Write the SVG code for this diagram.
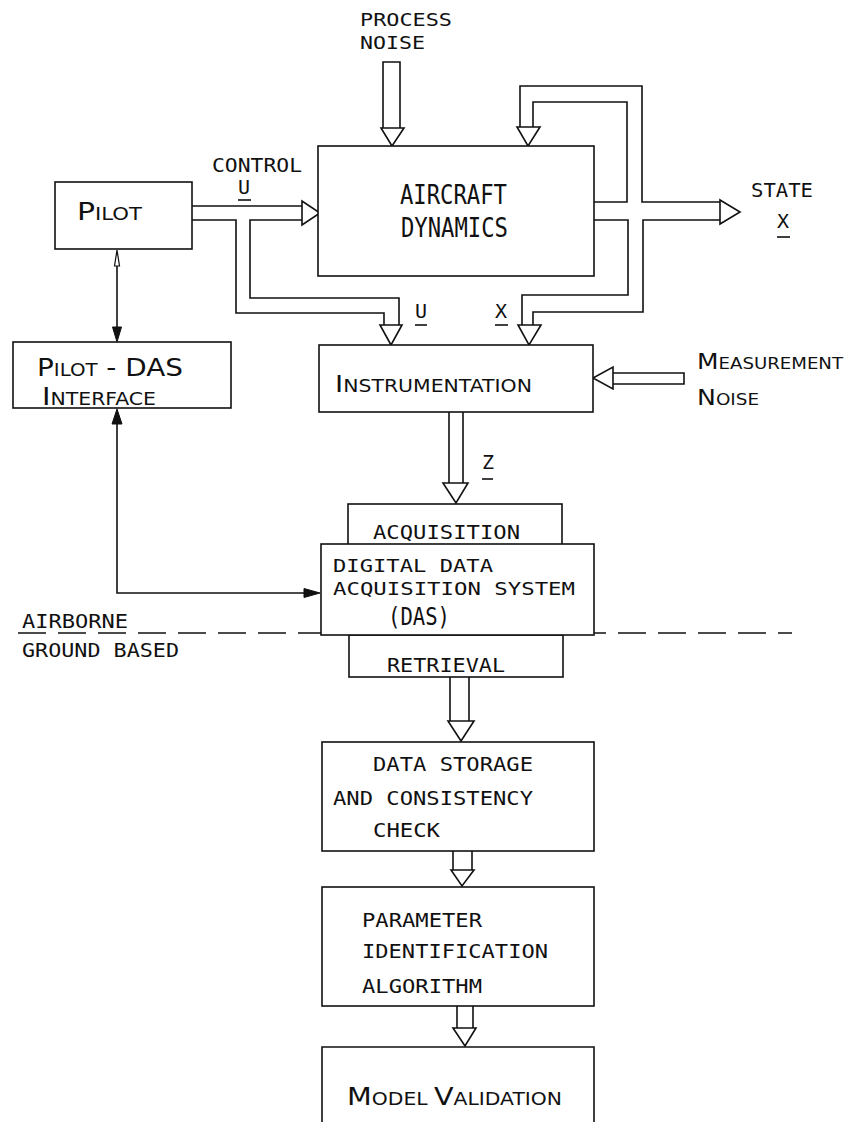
<svg xmlns="http://www.w3.org/2000/svg" width="844" height="1122" viewBox="0 0 844 1122">
<style>
.ln{fill:none;stroke:#111;stroke-width:1.6;stroke-linejoin:miter}
.box{fill:#fff;stroke:#111;stroke-width:1.6}
.hd{fill:#fff;stroke:#111;stroke-width:1.6;stroke-linejoin:miter}
.fh{fill:#111;stroke:#111;stroke-width:1}
.t{font-family:"DejaVu Sans Mono","Liberation Mono",monospace;font-size:20px;fill:#111}
.ts{font-family:"DejaVu Sans Mono","Liberation Mono",monospace;font-size:18px;fill:#111}
.big{font-family:"DejaVu Sans Mono",monospace;font-size:26px;fill:#111}
.sc{font-family:"DejaVu Sans","Liberation Sans",sans-serif;fill:#111}
.dash{fill:none;stroke:#111;stroke-width:1.6;stroke-dasharray:28 12}
</style>
<rect width="844" height="1122" fill="#fff"/>

<g id="divider">
<line class="dash" x1="18" y1="633" x2="792" y2="633"/>
<text class="t" x="22" y="628" textLength="106" lengthAdjust="spacingAndGlyphs">AIRBORNE</text>
<text class="t" x="22" y="657" textLength="157" lengthAdjust="spacingAndGlyphs">GROUND BASED</text>
</g>

<g id="connectors">
<path class="ln" d="M383,128 V62 H400 V128"/>
<polygon class="hd" points="381,128 404,128 392,146"/>
<path class="ln" d="M594,202 H627 V102 H533 V127"/>
<path class="ln" d="M720,202 H642 V86 H520 V127"/>
<polygon class="hd" points="517,127 540,127 528,146"/>
<path class="ln" d="M594,220 H628 V295 H522 V325"/>
<path class="ln" d="M720,220 H643 V312 H533 V325"/>
<polygon class="hd" points="720,200 720,224 740,212"/>
<polygon class="hd" points="518,325 541,325 529,345"/>
<path class="ln" d="M192,206 H302"/>
<path class="ln" d="M302,220 H250 V298 H399 V325"/>
<path class="ln" d="M192,220 H236 V313 H384 V325"/>
<polygon class="hd" points="302,201 302,225 320,213"/>
<polygon class="hd" points="380,325 402,325 391,345"/>
<path class="ln" d="M613,373 H684 V384 H613"/>
<polygon class="hd" points="613,367 613,389 593,378"/>
<path class="ln" d="M449,412 V483 M463,412 V483"/>
<polygon class="hd" points="443,483 468,483 456,503"/>
<path class="ln" d="M450,677 V721 M469,677 V721"/>
<polygon class="hd" points="448,721 474,721 461,741"/>
<path class="ln" d="M453,851 V870 M472,851 V870"/>
<polygon class="hd" points="451,870 474,870 462,886"/>
<path class="ln" d="M457,1006 V1028 M473,1006 V1028"/>
<polygon class="hd" points="453,1028 476,1028 465,1046"/>
<line class="ln" x1="117" y1="252" x2="117" y2="330"/>
<polygon class="hd" points="117,250 114.5,266 119.5,266" style="stroke-width:1.2"/>
<polygon class="fh" points="117,342 112.5,327 121.5,327"/>
<path class="ln" d="M117,420 V593 H306"/>
<polygon class="fh" points="117,409 112,424 122,424"/>
<polygon class="fh" points="320,593 304,588.5 304,597.5"/>
</g>

<g id="labels">
<text class="ts" x="360" y="26" textLength="92" lengthAdjust="spacingAndGlyphs">PROCESS</text>
<text class="ts" x="360" y="49" textLength="65" lengthAdjust="spacingAndGlyphs">NOISE</text>
<text class="t" x="212" y="172" textLength="90" lengthAdjust="spacingAndGlyphs">CONTROL</text>
<text class="t" x="238" y="194">U</text>
<line class="ln" x1="238" y1="200" x2="251" y2="200"/>
<text class="t" x="751" y="197" textLength="62" lengthAdjust="spacingAndGlyphs">STATE</text>
<text class="t" x="777" y="228">X</text>
<line class="ln" x1="777" y1="237" x2="790" y2="237"/>
<text class="t" x="415" y="318">U</text>
<line class="ln" x1="415" y1="325" x2="427" y2="325"/>
<text class="t" x="495" y="318">X</text>
<line class="ln" x1="495" y1="325" x2="508" y2="325"/>
<text class="t" x="482" y="469">Z</text>
<line class="ln" x1="482" y1="479" x2="493" y2="479"/>
<text class="sc" x="697" y="369" textLength="146" lengthAdjust="spacingAndGlyphs"><tspan font-size="22">M</tspan><tspan font-size="16">EASUREMENT</tspan></text>
<text class="sc" x="697" y="405" textLength="62" lengthAdjust="spacingAndGlyphs"><tspan font-size="22">N</tspan><tspan font-size="16">OISE</tspan></text>
</g>

<g id="aircraft-dynamics">
<rect class="box" x="318" y="146" width="276" height="130"/>
<text class="big" x="400" y="204" textLength="107" lengthAdjust="spacingAndGlyphs">AIRCRAFT</text>
<text class="big" x="401" y="237" textLength="107" lengthAdjust="spacingAndGlyphs">DYNAMICS</text>
</g>

<g id="pilot">
<rect class="box" x="55" y="182" width="137" height="67"/>
<text class="sc" x="77" y="220" textLength="65" lengthAdjust="spacingAndGlyphs"><tspan font-size="24">P</tspan><tspan font-size="17">ILOT</tspan></text>
</g>

<g id="pilot-das-interface">
<rect class="box" x="13" y="342" width="218" height="66"/>
<text class="sc" x="37" y="376" textLength="146" lengthAdjust="spacingAndGlyphs"><tspan font-size="24">P</tspan><tspan font-size="17">ILOT</tspan><tspan font-size="24"> - DAS</tspan></text>
<text class="sc" x="42" y="405" textLength="114" lengthAdjust="spacingAndGlyphs"><tspan font-size="24">I</tspan><tspan font-size="17">NTERFACE</tspan></text>
</g>

<g id="instrumentation">
<rect class="box" x="319" y="345" width="274" height="67"/>
<text class="sc" x="335" y="392" textLength="197" lengthAdjust="spacingAndGlyphs"><tspan font-size="23">I</tspan><tspan font-size="17">NSTRUMENTATION</tspan></text>
</g>

<g id="acquisition">
<rect class="box" x="348" y="504" width="214" height="50"/>
<text class="t" x="373" y="539" textLength="147" lengthAdjust="spacingAndGlyphs">ACQUISITION</text>
</g>

<g id="retrieval">
<rect class="box" x="349" y="635" width="214" height="42"/>
<text class="t" x="387" y="672" textLength="118" lengthAdjust="spacingAndGlyphs">RETRIEVAL</text>
</g>

<g id="das">
<rect class="box" x="321" y="544" width="273" height="91"/>
<text class="ts" x="333" y="572" textLength="160" lengthAdjust="spacingAndGlyphs">DIGITAL DATA</text>
<text class="ts" x="333" y="595" textLength="242" lengthAdjust="spacingAndGlyphs">ACQUISITION SYSTEM</text>
<text class="big" x="388" y="625" textLength="62" lengthAdjust="spacingAndGlyphs" style="font-size:24px">(DAS)</text>
</g>

<g id="data-storage">
<rect class="box" x="322" y="742" width="272" height="109"/>
<text class="t" x="373" y="771" textLength="160" lengthAdjust="spacingAndGlyphs">DATA STORAGE</text>
<text class="t" x="333" y="805" textLength="200" lengthAdjust="spacingAndGlyphs">AND CONSISTENCY</text>
<text class="t" x="373" y="837" textLength="67" lengthAdjust="spacingAndGlyphs">CHECK</text>
</g>

<g id="parameter-identification">
<rect class="box" x="322" y="887" width="272" height="119"/>
<text class="t" x="362" y="927" textLength="120" lengthAdjust="spacingAndGlyphs">PARAMETER</text>
<text class="t" x="362" y="958" textLength="186" lengthAdjust="spacingAndGlyphs">IDENTIFICATION</text>
<text class="t" x="362" y="993" textLength="120" lengthAdjust="spacingAndGlyphs">ALGORITHM</text>
</g>

<g id="model-validation">
<path class="box" d="M322,1124 V1047 H594 V1124"/>
<text class="sc" x="347" y="1105" textLength="215" lengthAdjust="spacingAndGlyphs"><tspan font-size="24">M</tspan><tspan font-size="17">ODEL </tspan><tspan font-size="24">V</tspan><tspan font-size="17">ALIDATION</tspan></text>
</g>
</svg>
